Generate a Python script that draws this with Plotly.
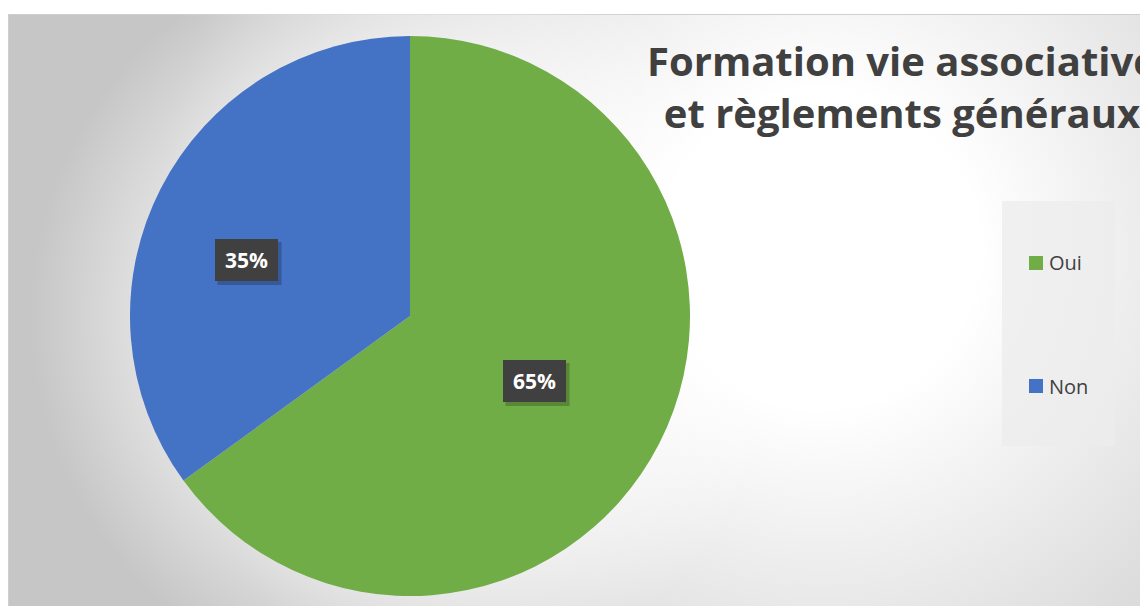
import urllib.parse
import plotly.graph_objects as go

# ---- data ----
categories = ["Oui", "Non"]
values = [65, 35]
colors = ["#70AD47", "#4472C4"]
title_lines = ["Formation vie associative", "et règlements généraux"]

# ---- layout constants (page pixels) ----
W, H = 1148, 606
PAGE_OFF = 8  # body margin of the html page
CX, CY, R = 410, 316, 280
label_pos = [(534, 381), (246, 260)]  # label box centres, per category
legend_box = (1002, 201, 1115, 446)
legend_rows_y = [263, 386]


def px(x):
    return (x - PAGE_OFF) / W


def py(y):
    return 1 - (y - PAGE_OFF) / H


# background (chart area) as an SVG gradient, page coords start at (8, 14)
ox, oy = 8, 14
bw, bh = W - (ox - PAGE_OFF), H - (oy - PAGE_OFF)
cxg, cyg = CX - ox, CY - oy
svg = f"""<svg xmlns='http://www.w3.org/2000/svg' width='{bw}' height='{bh}' viewBox='0 0 {bw} {bh}'>
<defs>
<radialGradient id='g' gradientUnits='userSpaceOnUse' cx='812' cy='236' r='660'>
<stop offset='0' stop-color='#ffffff'/><stop offset='0.24' stop-color='#ffffff'/>
<stop offset='1' stop-color='#c6c6c6'/></radialGradient>
<radialGradient id='h' gradientUnits='userSpaceOnUse' cx='{cxg}' cy='{cyg}' r='380'>
<stop offset='0.72' stop-color='#ffffff' stop-opacity='0.45'/>
<stop offset='1' stop-color='#ffffff' stop-opacity='0'/></radialGradient>
</defs>
<rect x='0.5' y='0.5' width='{bw-1}' height='{bh-1}' fill='url(#g)' stroke='#cfcfcf'/>
<rect x='0' y='0' width='{bw}' height='{bh}' fill='url(#h)'/>
</svg>"""
svg_uri = "data:image/svg+xml;charset=utf-8," + urllib.parse.quote(svg)

fig = go.Figure()
fig.add_trace(go.Pie(
    labels=categories,
    values=values,
    marker=dict(colors=colors, line=dict(width=0)),
    sort=False,
    direction="clockwise",
    rotation=0,
    textinfo="none",
    showlegend=False,
    domain=dict(x=[px(CX - R), px(CX + R)], y=[py(CY + R), py(CY - R)]),
))

shapes = []
annotations = []

# data labels
total = sum(values)
for (lx, ly), v in zip(label_pos, values):
    bwid, bhei = 63, 42
    shapes.append(dict(type="rect", xref="paper", yref="paper",
                       x0=px(lx - bwid / 2 + 3), x1=px(lx + bwid / 2 + 4),
                       y0=py(ly + bhei / 2 + 4), y1=py(ly - bhei / 2 + 3),
                       fillcolor="rgba(0,0,0,0.22)", line=dict(width=0), layer="above"))
    annotations.append(dict(x=px(lx), y=py(ly), xref="paper", yref="paper",
                            text=f"<b>{round(v / total * 100)}%</b>", showarrow=False,
                            font=dict(family="Open Sans", size=21, color="white"),
                            bgcolor="#404040", width=bwid, height=bhei,
                            borderpad=0, borderwidth=0, xanchor="center", yanchor="middle"))

# legend
x0, y0, x1, y1 = legend_box
shapes.append(dict(type="rect", xref="paper", yref="paper",
                   x0=px(x0), x1=px(x1), y0=py(y1), y1=py(y0),
                   fillcolor="rgba(236,236,236,0.75)", line=dict(width=0), layer="above"))
for cat, col, ry in zip(categories, colors, legend_rows_y):
    shapes.append(dict(type="rect", xref="paper", yref="paper",
                       x0=px(1029), x1=px(1043), y0=py(ry + 7), y1=py(ry - 7),
                       fillcolor=col, line=dict(width=0), layer="above"))
    annotations.append(dict(x=px(1047), y=py(ry), xref="paper", yref="paper",
                            text=cat, showarrow=False, xanchor="left", yanchor="middle",
                            font=dict(family="Open Sans", size=20, color="#404040")))

# title
annotations.append(dict(x=px(902), y=py(86), xref="paper", yref="paper",
                        text="<b>" + "<br>".join(title_lines) + "</b>", showarrow=False,
                        xanchor="center", yanchor="middle", align="center",
                        font=dict(family="Open Sans", size=40, color="#404040")))

fig.update_layout(
    width=W, height=H,
    margin=dict(l=0, r=0, t=0, b=0),
    paper_bgcolor="white",
    shapes=shapes,
    annotations=annotations,
    images=[dict(source=svg_uri, xref="paper", yref="paper",
                 x=px(ox), y=py(oy), sizex=bw / W, sizey=bh / H,
                 xanchor="left", yanchor="top", sizing="stretch", layer="below")],
)

fig.write_html("out.html")
